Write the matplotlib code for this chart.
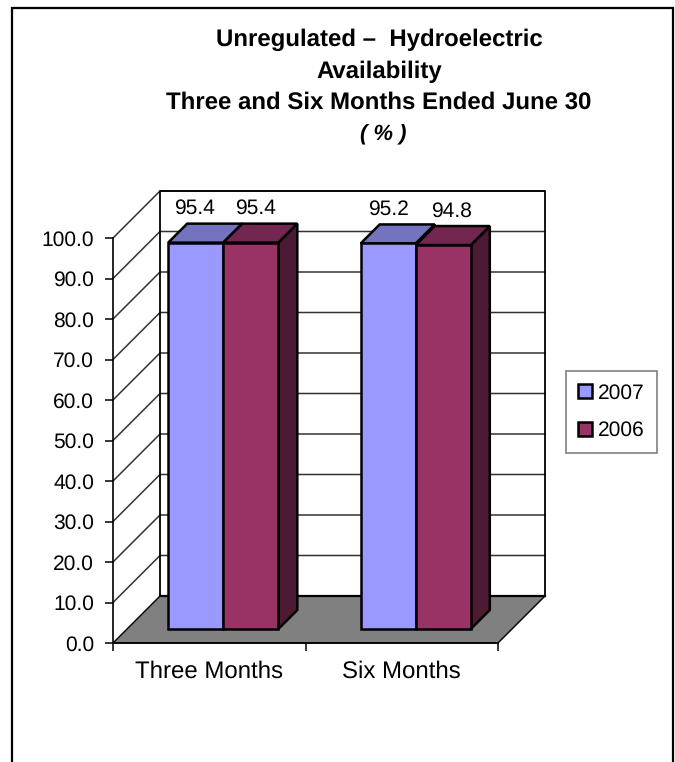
import matplotlib
matplotlib.use("Agg")
import matplotlib.pyplot as plt
from matplotlib.patches import Polygon, Patch
from matplotlib.lines import Line2D

plt.rcParams['font.family'] = ['Liberation Sans', 'DejaVu Sans']
plt.rcParams['text.hinting'] = 'no_hinting'
plt.rcParams['text.hinting_factor'] = 1

# values
categories = ['Three Months', 'Six Months']
series_names = ['2007', '2006']
values_2007 = [95.4, 95.2]
values_2006 = [95.4, 94.8]
y_ticks = [0, 10, 20, 30, 40, 50, 60, 70, 80, 90, 100]

W, H = 675, 762
fig = plt.figure(figsize=(W / 100, H / 100), dpi=100, facecolor='white')

# front plane of the 3d box, pixel box of the axes
left, right, top, bottom = 113, 498, 238, 643
ax = fig.add_axes([left / W, 1 - bottom / H, (right - left) / W, (bottom - top) / H])
ax.set_xlim(0, len(categories))
ax.set_ylim(0, 100)
ax.patch.set_visible(False)

# pixels to data, for the oblique depth
px_x = len(categories) / (right - left)
px_y = 100 / (bottom - top)
depth = 47       # full depth of the box
bar_gap = 14     # bar starts this far back from the front plane
bar_depth = 19
bar_w = 0.286


def shift(x, y, d):
    return (x + d * px_x, y + d * px_y)


def poly(pts, **kw):
    ax.add_patch(Polygon(pts, closed=True, clip_on=False, **kw))


n = len(categories)
# floor
poly([shift(0, 0, 0), shift(0, 0, depth), shift(n, 0, depth), shift(n, 0, 0)],
     facecolor='#808080', edgecolor='black', linewidth=1, zorder=1)

# back wall and side wall grid
grid_c = '#333333'
for v in y_ticks[1:]:
    x0, y0 = shift(0, v, 0)
    x1, y1 = shift(0, v, depth)
    x2, y2 = shift(n, v, depth)
    ax.plot([x0, x1, x2], [y0, y1, y2], color=grid_c, lw=1.1, clip_on=False, zorder=1.5,
            solid_joinstyle='miter')
xa, ya = shift(0, 0, depth)
xb, yb = shift(0, 100, depth)
xc, yc = shift(n, 100, depth)
xd, yd = shift(n, 0, depth)
ax.plot([xa, xb, xc, xd], [ya, yb, yc, yd], color='black', lw=1.3, clip_on=False, zorder=1.6)
ax.plot([xa, xd], [ya, yd], color='black', lw=1.6, clip_on=False, zorder=1.6)

front_colors = ['#9999FF', '#993366']
top_colors = ['#7373BF', '#732650']
side_colors = ['#4D4D80', '#4D1A33']


def draw_bar(x0, x1, v, i):
    edge = dict(edgecolor='black', linewidth=1.8, joinstyle='miter')
    a = bar_gap
    b = bar_gap + bar_depth
    poly([shift(x1, 0, a), shift(x1, 0, b), shift(x1, v, b), shift(x1, v, a)],
         facecolor=side_colors[i], zorder=3, **edge)
    poly([shift(x0, v, a), shift(x0, v, b), shift(x1, v, b), shift(x1, v, a)],
         facecolor=top_colors[i], zorder=3, **edge)
    poly([shift(x0, 0, a), shift(x0, v, a), shift(x1, v, a), shift(x1, 0, a)],
         facecolor=front_colors[i], zorder=3, **edge)


label_dx = [[13, 19], [14, 22]]
for c in range(n):
    mid = c + 0.5
    for i, vals in enumerate([values_2007, values_2006]):
        x0 = mid - bar_w + i * bar_w
        x1 = x0 + bar_w
        draw_bar(x0, x1, vals[c], i)
        lx = (x0 + x1) / 2 + label_dx[c][i] * px_x
        ly = vals[c] + 48 * px_y
        ax.text(lx, ly, '%.1f' % vals[c], ha='center', va='center', fontsize=15.2, zorder=4)

# axes, ticks
for s in ['top', 'right']:
    ax.spines[s].set_visible(False)
ax.spines['left'].set_linewidth(1.2)
ax.spines['bottom'].set_linewidth(1.2)
ax.set_yticks(y_ticks)
ax.set_yticklabels(['%.1f' % v for v in y_ticks], fontsize=15.2)
ax.set_xticks(range(n + 1))
ax.set_xticklabels([])
ax.tick_params(axis='both', length=6, width=1.1, color='black')
ax.tick_params(axis='y', pad=7.5)
for c, name in enumerate(categories):
    ax.annotate(name, (c + 0.5, 0), xytext=(0, -20.5), textcoords='offset points',
                ha='center', va='center', fontsize=17.5, annotation_clip=False)

# title
title_x = 379 / W
fig.text(title_x, 1 - 40 / H, 'Unregulated \u2013  Hydroelectric', ha='center', va='center',
         fontsize=17, fontweight='bold')
fig.text(title_x, 1 - 72 / H, 'Availability', ha='center', va='center', fontsize=17, fontweight='bold')
fig.text(title_x, 1 - 103 / H, 'Three and Six Months Ended June 30', ha='center', va='center',
         fontsize=17, fontweight='bold')
fig.text(383 / W, 1 - 135 / H, '( % )', ha='center', va='center', fontsize=15.5, fontweight='bold',
         fontstyle='italic')

# legend
handles = [Patch(facecolor=front_colors[i], edgecolor='black', linewidth=1.8, label=series_names[i])
           for i in range(2)]
leg = fig.legend(handles=handles, loc='center', bbox_to_anchor=(611.5 / W, 1 - 412 / H), fontsize=15.3,
                 fancybox=False, framealpha=1, edgecolor='#808080', handlelength=0.65, handleheight=0.65,
                 handletextpad=0.3, labelspacing=0.85, borderpad=0.58, borderaxespad=0)
leg.get_frame().set_linewidth(1.2)

# outer border of the picture, no bottom edge
fig.add_artist(Line2D([12 / W, 12 / W, 673 / W, 673 / W], [0, 1 - 8 / H, 1 - 8 / H, 0],
                      color='black', lw=1.6, solid_joinstyle='miter'))

fig.savefig('out.png', dpi=100)
